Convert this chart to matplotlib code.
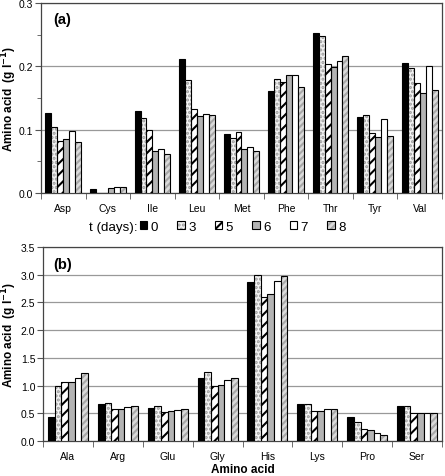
import numpy as np
import matplotlib
matplotlib.use('Agg')
import matplotlib.pyplot as plt
from matplotlib.patches import Patch
from matplotlib.ticker import MultipleLocator

plt.rcParams['font.family'] = ['Liberation Sans', 'DejaVu Sans']
plt.rcParams['hatch.linewidth'] = 1.5

days = ['0', '3', '5', '6', '7', '8']

aa_a = ['Asp', 'Cys', 'Ile', 'Leu', 'Met', 'Phe', 'Thr', 'Tyr', 'Val']
a_d0 = [0.127, 0.006, 0.129, 0.212, 0.093, 0.161, 0.253, 0.120, 0.206]
a_d3 = [0.105, 0.0, 0.119, 0.179, 0.087, 0.180, 0.248, 0.123, 0.198]
a_d5 = [0.082, 0.0, 0.100, 0.133, 0.096, 0.176, 0.204, 0.095, 0.174]
a_d6 = [0.086, 0.0085, 0.066, 0.121, 0.069, 0.186, 0.199, 0.088, 0.158]
a_d7 = [0.098, 0.0096, 0.069, 0.124, 0.073, 0.186, 0.208, 0.117, 0.200]
a_d8 = [0.080, 0.0096, 0.061, 0.123, 0.066, 0.168, 0.217, 0.090, 0.163]

aa_b = ['Ala', 'Arg', 'Glu', 'Gly', 'His', 'Lys', 'Pro', 'Ser']
b_d0 = [0.43, 0.67, 0.60, 1.13, 2.87, 0.67, 0.43, 0.64]
b_d3 = [1.00, 0.69, 0.64, 1.25, 3.00, 0.66, 0.35, 0.64]
b_d5 = [1.06, 0.57, 0.53, 0.99, 2.59, 0.54, 0.22, 0.50]
b_d6 = [1.06, 0.57, 0.54, 1.01, 2.66, 0.54, 0.19, 0.50]
b_d7 = [1.14, 0.61, 0.56, 1.10, 2.89, 0.57, 0.15, 0.51]
b_d8 = [1.22, 0.64, 0.57, 1.14, 2.98, 0.57, 0.10, 0.51]

# face, hatch, hatch colour per day
styles = [
    ('black', None, 'black'),
    ('#f2f2f2', '....', '#9a9a9a'),
    ('white', '///', 'black'),
    ('#b4b4b4', None, 'black'),
    ('white', None, 'black'),
    ('#dadada', '/////', '#a8a8a8'),
]

W, H = 445, 477
fig = plt.figure(figsize=(W / 100, H / 100), dpi=100)
ax1 = fig.add_axes([41 / W, 1 - 194 / H, 401 / W, 190 / H])
ax2 = fig.add_axes([43 / W, 1 - 442 / H, 399 / W, 194 / H])


def draw(ax, cats, series):
    x = np.arange(len(cats))
    bw = 0.8 / len(series)
    for i, vals in enumerate(series):
        fc, hatch, hc = styles[i]
        pos = x - 0.4 + bw * (i + 0.5)
        if hatch:
            ax.bar(pos, vals, bw, color=fc, edgecolor=hc, hatch=hatch,
                   linewidth=0, zorder=3)
            ax.bar(pos, vals, bw, fill=False, edgecolor='black',
                   linewidth=0.8, zorder=4)
        else:
            ax.bar(pos, vals, bw, color=fc, edgecolor='black',
                   linewidth=0.8, zorder=3)
    ax.set_xlim(-0.5, len(cats) - 0.5)
    ax.set_xticks(x)
    ax.set_xticklabels(cats)
    ax.set_xticks(np.arange(len(cats) + 1) - 0.5, minor=True)
    ax.tick_params(axis='x', which='major', length=0, pad=7, labelsize=7.5)
    ax.tick_params(axis='x', which='minor', length=4, color='#555555')
    ax.tick_params(axis='y', labelsize=7.5, length=4, pad=1.5, color='#555555')
    ax.yaxis.grid(True, color='#999999', linewidth=0.9, zorder=0)
    for s in ax.spines.values():
        s.set_linewidth(0.9)
        s.set_color('#444444')


draw(ax1, aa_a, [a_d0, a_d3, a_d5, a_d6, a_d7, a_d8])
draw(ax2, aa_b, [b_d0, b_d3, b_d5, b_d6, b_d7, b_d8])

ax1.set_ylim(0, 0.3)
ax1.yaxis.set_major_locator(MultipleLocator(0.1))
ax1.yaxis.set_minor_locator(MultipleLocator(0.05))
ax1.tick_params(axis='y', which='minor', length=3, color='#555555')
ax1.set_yticklabels(['%.1f' % v for v in ax1.get_yticks()])
ax2.set_ylim(0, 3.5)
ax2.yaxis.set_major_locator(MultipleLocator(0.5))
ax2.set_yticklabels(['%.1f' % v for v in ax2.get_yticks()])

ylab = 'Amino acid  (g l$^{\\mathbf{-1}}$)'
ax1.set_ylabel(ylab, fontsize=8.5, fontweight='bold')
ax1.yaxis.set_label_coords(-22 / 401, 0.5)
ax2.set_ylabel(ylab, fontsize=8.5, fontweight='bold')
ax2.yaxis.set_label_coords(-24 / 399, 0.55)
ax2.set_xlabel('Amino acid', fontsize=8.5, fontweight='bold')
ax2.xaxis.set_label_coords(0.5, -28 / 194)
ax2.xaxis.label.set_va('center')

ax1.text(0.03, 0.95, '(a)', transform=ax1.transAxes, fontsize=10.5,
         fontweight='bold', va='top')
ax2.text(0.025, 0.95, '(b)', transform=ax2.transAxes, fontsize=10.5,
         fontweight='bold', va='top')

# legend handles: hatched fill underneath, black outline on top
handles = []
for fc, hatch, hc in styles:
    fill = Patch(facecolor=fc, edgecolor=hc, hatch=hatch, linewidth=0)
    edge = Patch(fill=False, edgecolor='black', linewidth=0.8)
    handles.append((fill, edge))
fig.text(89 / W, 1 - 228 / H, 't (days):', fontsize=9.6, va='center', ha='left')
fig.legend(handles, days, loc='center left',
           bbox_to_anchor=(140 / W, 1 - 228 / H),
           ncol=6, frameon=False, fontsize=9.6, handlelength=0.55,
           handleheight=0.55, handletextpad=0.25, columnspacing=1.45,
           borderpad=0, borderaxespad=0)

fig.savefig('out.png', dpi=100)
